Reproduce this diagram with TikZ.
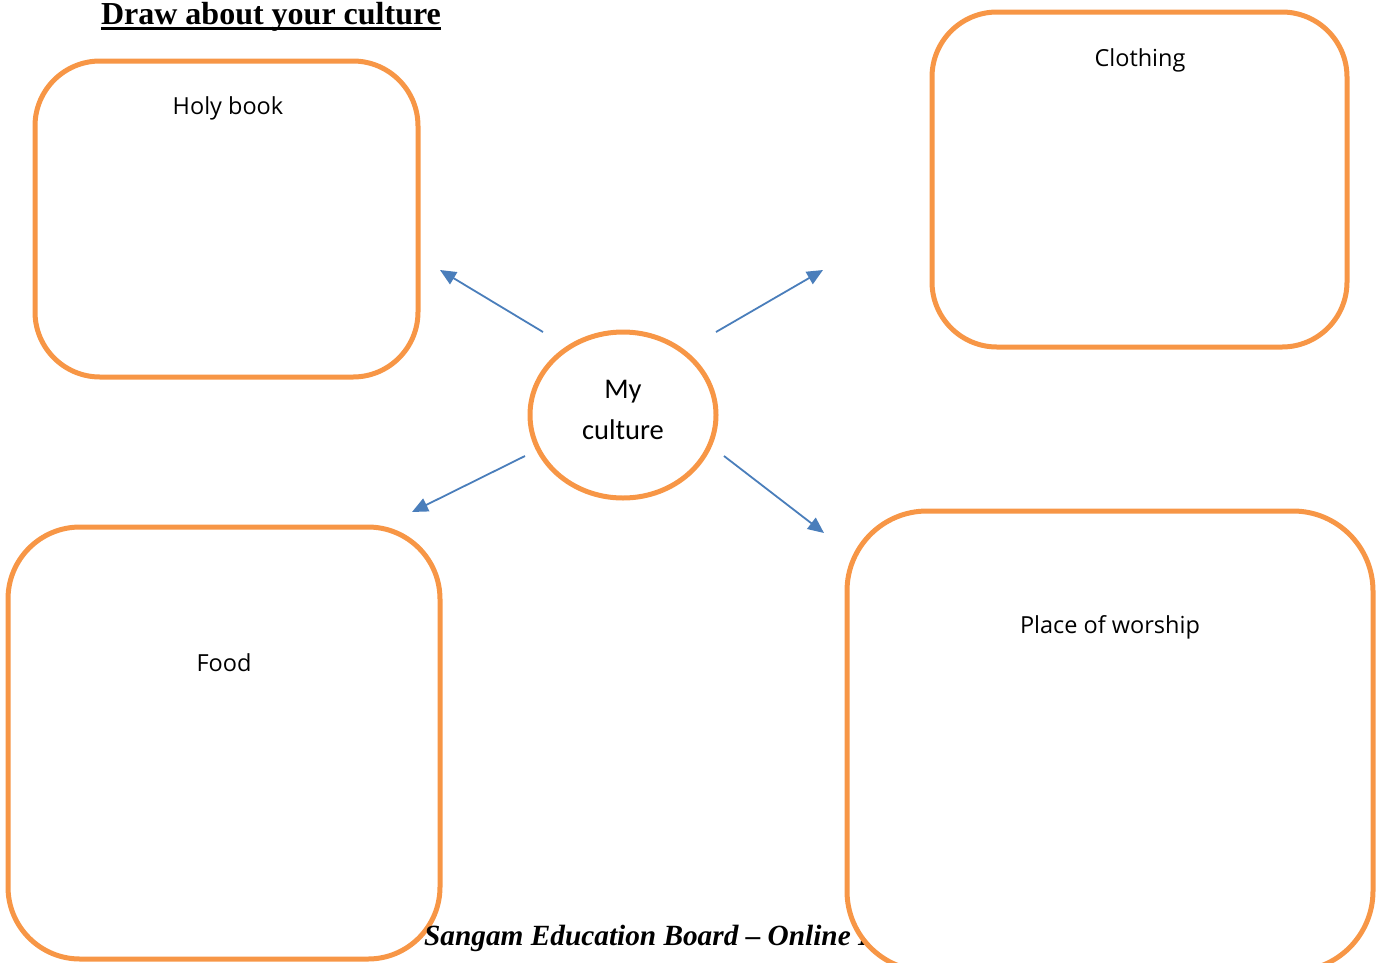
\documentclass[tikz,border=0pt]{standalone}
\usepackage{fontspec}
\setmainfont{Liberation Serif}
\newfontfamily\boxfont{Open Sans}
\newfontfamily\calib{Carlito}
\usetikzlibrary{arrows.meta,shapes.geometric}
\definecolor{boxorange}{HTML}{F79646}
\definecolor{arrowblue}{HTML}{4A7EBB}
\tikzset{
  culturebox/.style={draw=boxorange, line width=5pt, fill=white, rounded corners=#1, inner sep=0pt},
  boxlabel/.style={font=\boxfont\fontsize{23.5}{27}\selectfont, inner sep=0pt, anchor=base},
  linkarrow/.style={draw=arrowblue, line width=1.8pt, -{Triangle[length=16pt,width=14pt]}}
}
\begin{document}
\begin{tikzpicture}[x=1pt,y=-1pt]
\useasboundingbox (0,0) rectangle (1376,962);
% title
\node[font=\bfseries\fontsize{32}{36}\selectfont, inner sep=0pt, anchor=base] (title) at (271,24) {Draw about your culture};
\draw[line width=3pt] (title.base west) ++(0,4) -- ([yshift=-4pt]title.base east);
% boxes
\draw[culturebox=65pt] (35,61) rectangle (418,377);
\node (holy) at (226.5,219) {};
\draw[culturebox=65pt] (932,12) rectangle (1347,347);
\node (cloth) at (1139.5,179.5) {};
\draw[culturebox=72pt] (8,527) rectangle (440,959);
\node (food) at (224,743) {};
% footer
\node[font=\bfseries\itshape\fontsize{29.3}{33}\selectfont, inner sep=0pt, anchor=base west] (footer) at (424,945) {Sangam Education Board -- Online L};
\draw[culturebox=80pt] (847,511) rectangle (1373,971);
\node (worship) at (1110,741) {};
% labels
\node[boxlabel] (lholy) at (228,114) {Holy book};
\node[boxlabel] (lcloth) at (1140,66) {Clothing};
\node[boxlabel] (lfood) at (224,671) {Food};
\node[boxlabel] (lworship) at (1110,633) {Place of worship};
% centre
\node[draw=boxorange, line width=5pt, ellipse, minimum width=186pt, minimum height=166pt, inner sep=0pt] (centre) at (623,415) {};
\node[font=\calib\fontsize{28.5}{41}\selectfont, align=center, inner sep=0pt] (ctext) at (623,410) {My\\culture};
% arrows
\coordinate (a1s) at (543,332); \coordinate (a1e) at (440,270);
\coordinate (a2s) at (716,332); \coordinate (a2e) at (823,270);
\coordinate (a3s) at (525,456); \coordinate (a3e) at (412,512);
\coordinate (a4s) at (724,456); \coordinate (a4e) at (824,533);
\draw[linkarrow] (a1s) -- (a1e);
\draw[linkarrow] (a2s) -- (a2e);
\draw[linkarrow] (a3s) -- (a3e);
\draw[linkarrow] (a4s) -- (a4e);
\end{tikzpicture}
\end{document}
